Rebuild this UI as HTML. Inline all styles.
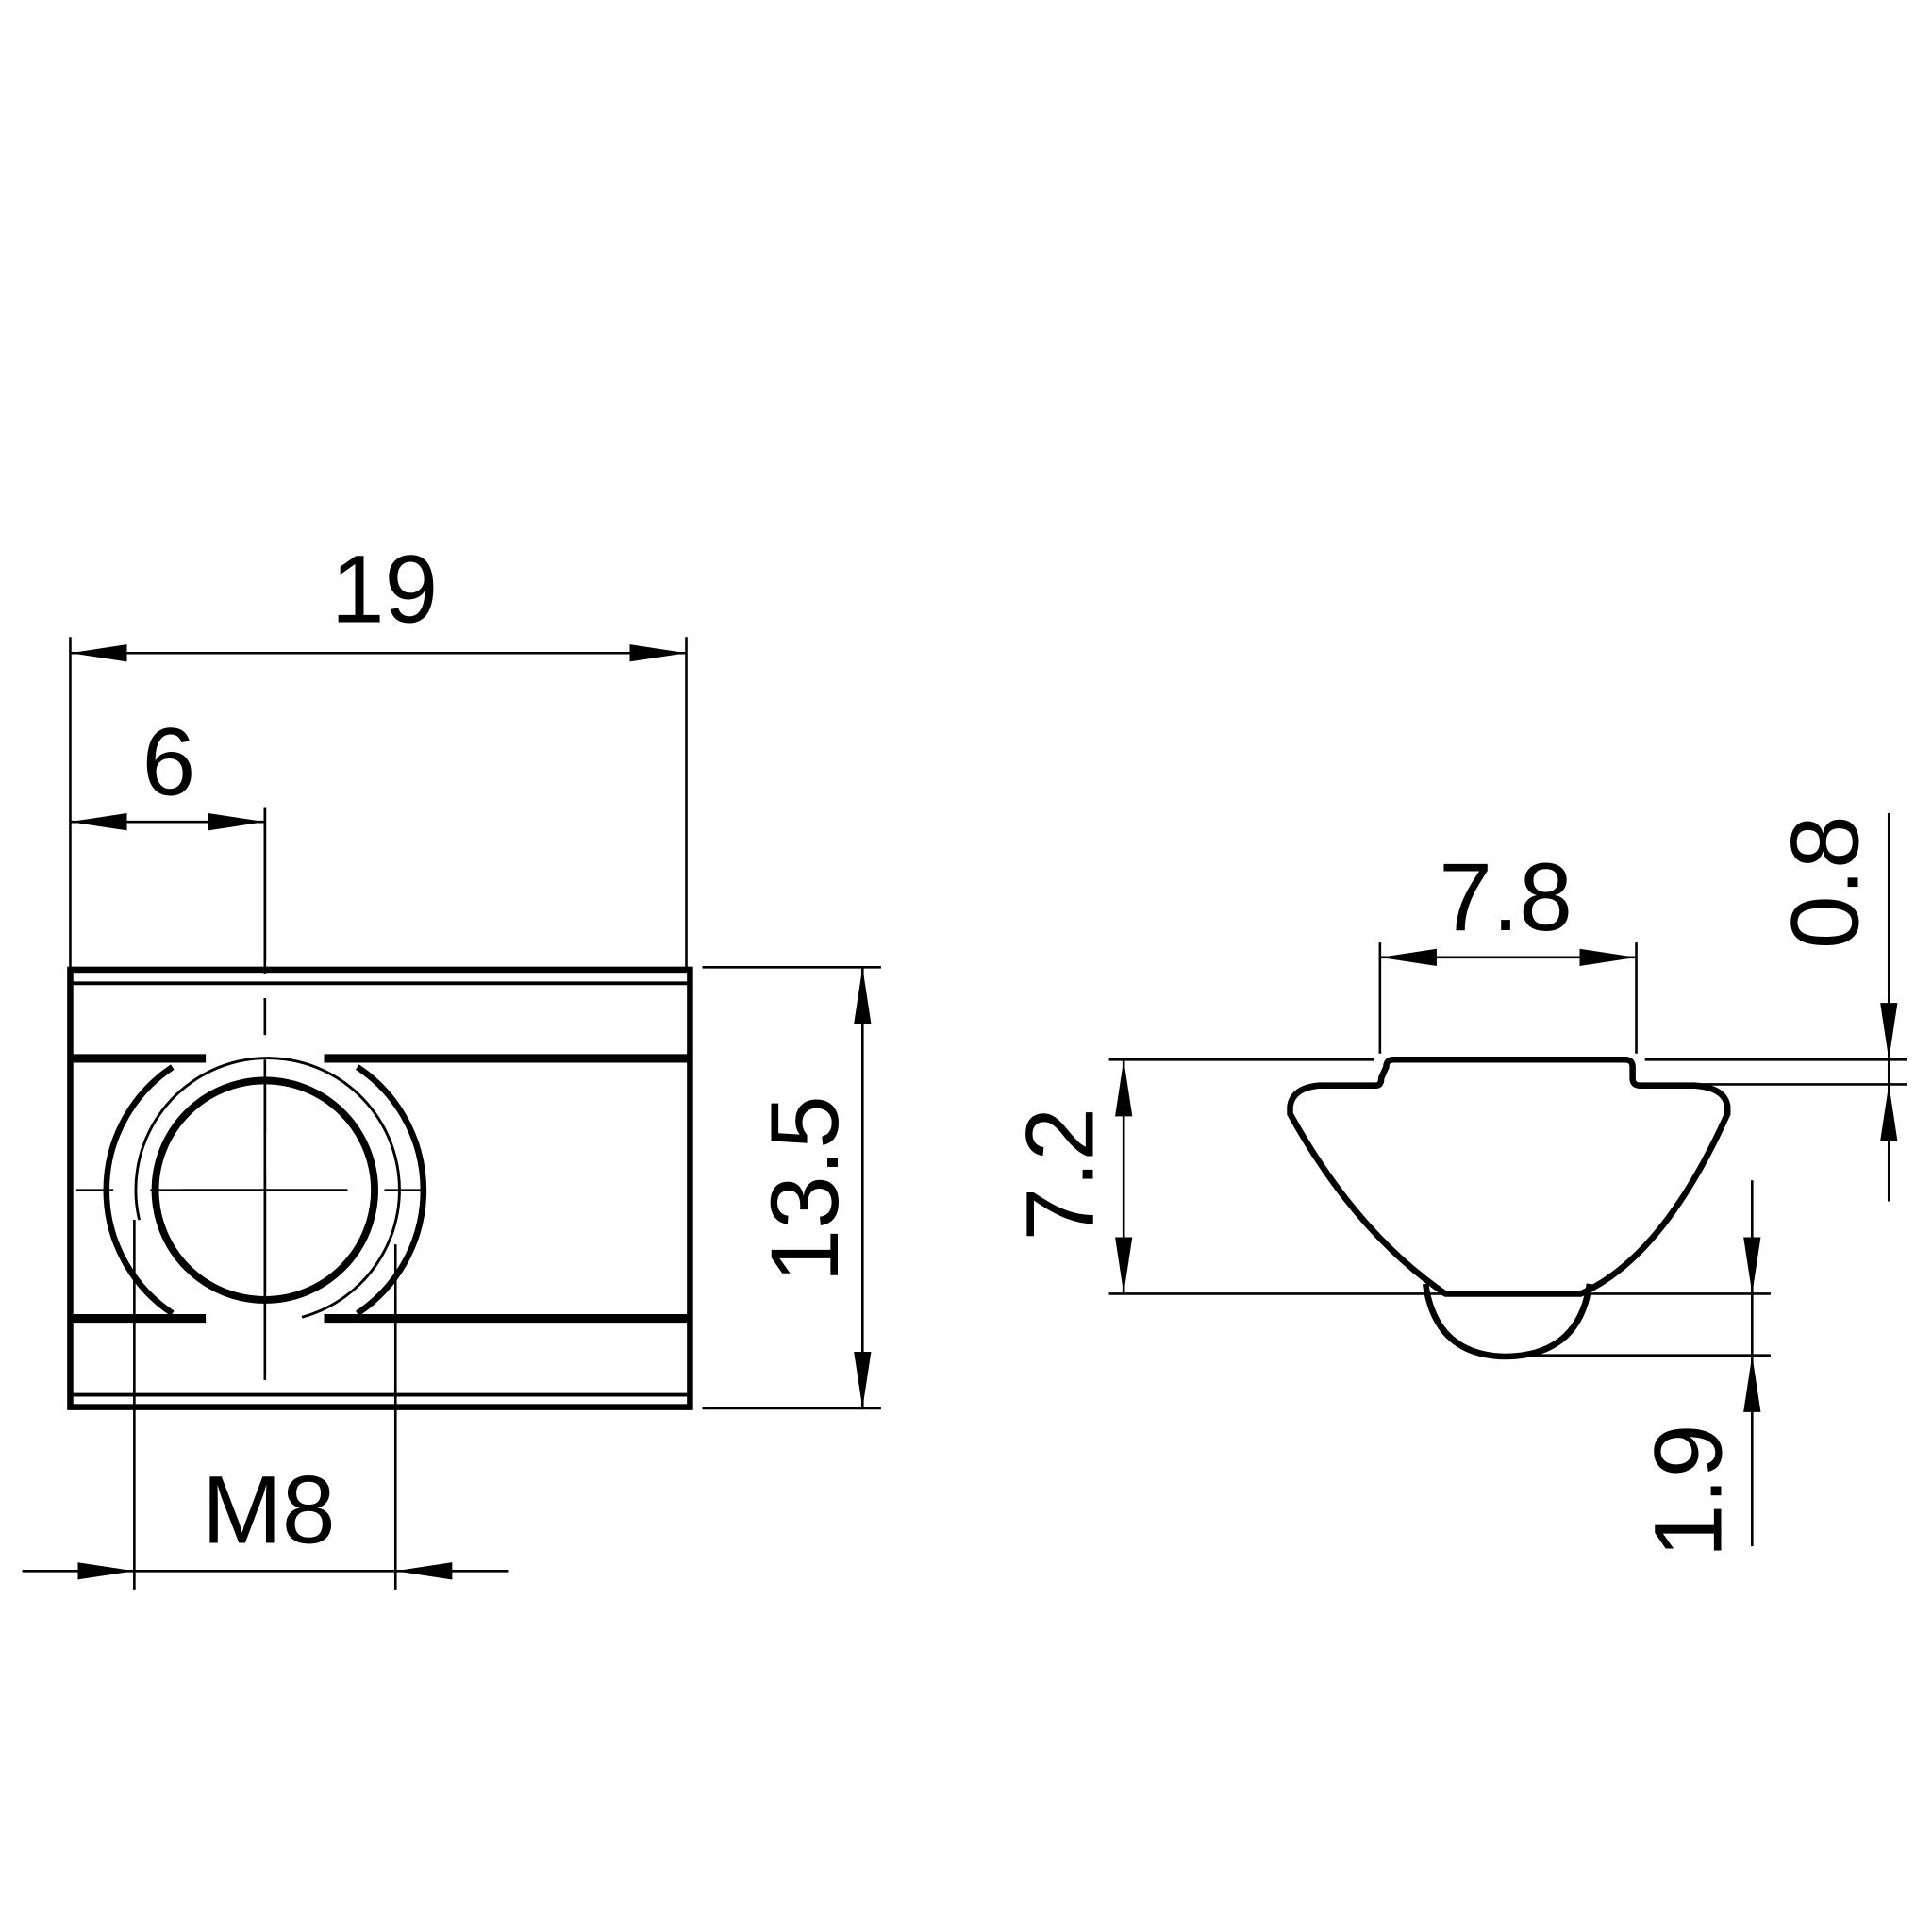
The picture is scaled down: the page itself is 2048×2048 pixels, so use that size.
<!DOCTYPE html>
<html><head><meta charset="utf-8"><style>
html,body{margin:0;padding:0;background:#fff}
svg{display:block}
text{font-family:"Liberation Sans","DejaVu Sans",sans-serif;fill:#000}
</style></head><body>
<svg width="2048" height="2048" viewBox="0 0 1568 1568" xmlns="http://www.w3.org/2000/svg">
<defs>
<marker id="a" viewBox="0 0 46 14" refX="46" refY="7" markerWidth="46" markerHeight="14" markerUnits="userSpaceOnUse" orient="auto-start-reverse">
<path d="M0,0 L46,7 L0,14 Z" fill="#000"/></marker>
</defs>
<g stroke="#000" fill="none" stroke-width="2">
<line x1="57" y1="517" x2="57" y2="785"/>
<line x1="557" y1="517" x2="557" y2="785"/>
<line x1="57" y1="530" x2="557" y2="530" marker-start="url(#a)" marker-end="url(#a)"/>
<line x1="215" y1="655" x2="215" y2="780"/>
<line x1="57" y1="667" x2="215" y2="667" marker-start="url(#a)" marker-end="url(#a)"/>
<line x1="570" y1="785" x2="715" y2="785"/>
<line x1="570" y1="1143" x2="715" y2="1143"/>
<line x1="700" y1="785" x2="700" y2="1143" marker-start="url(#a)" marker-end="url(#a)"/>
<line x1="109" y1="990" x2="109" y2="1290"/>
<line x1="321" y1="1010" x2="321" y2="1290"/>
<line x1="18" y1="1275" x2="109" y2="1275" marker-end="url(#a)"/>
<line x1="413" y1="1275" x2="321" y2="1275" marker-end="url(#a)"/>
<line x1="109" y1="1275" x2="321" y2="1275"/>
<line x1="62" y1="966" x2="372" y2="966" stroke-dasharray="30,30,160,30,30,30"/>
<line x1="215" y1="655" x2="215" y2="1120" stroke-dasharray="135,20,30,20,60,30,180,30,30"/>
<line x1="215" y1="880" x2="215" y2="1050"/>
<line x1="148" y1="966" x2="282" y2="966"/>
</g>
<g stroke="#000" fill="none">
<rect x="57" y="787" width="503" height="355" stroke-width="5"/>
<line x1="57" y1="798" x2="560" y2="798" stroke-width="3"/>
<line x1="57" y1="1132" x2="560" y2="1132" stroke-width="3"/>
<line x1="57" y1="859" x2="167" y2="859" stroke-width="7"/>
<line x1="263" y1="859" x2="560" y2="859" stroke-width="7"/>
<line x1="57" y1="1070" x2="167" y2="1070" stroke-width="7"/>
<line x1="263" y1="1070" x2="560" y2="1070" stroke-width="7"/>
<path d="M140,866 A120,120 0 0 0 140,1066" stroke-width="5"/>
<path d="M290,866 A120,120 0 0 1 290,1066" stroke-width="5"/>
<circle cx="215" cy="966" r="89" stroke-width="6"/>
<path d="M113,990 A107,107 0 1 1 245,1069" stroke-width="2.2"/>
</g>
<g stroke="#000" fill="none" stroke-width="2">
<line x1="1120" y1="765" x2="1120" y2="855"/>
<line x1="1328" y1="765" x2="1328" y2="855"/>
<line x1="1120" y1="777" x2="1328" y2="777" marker-start="url(#a)" marker-end="url(#a)"/>
<line x1="900" y1="860" x2="1115" y2="860"/>
<line x1="1335" y1="860" x2="1548" y2="860"/>
<line x1="1350" y1="880" x2="1548" y2="880"/>
<line x1="900" y1="1050" x2="1437" y2="1050"/>
<line x1="1225" y1="1100" x2="1437" y2="1100"/>
<line x1="912" y1="860" x2="912" y2="1050" marker-start="url(#a)" marker-end="url(#a)"/>
<line x1="1533" y1="660" x2="1533" y2="860" marker-end="url(#a)"/>
<line x1="1533" y1="975" x2="1533" y2="880" marker-end="url(#a)"/>
<line x1="1533" y1="860" x2="1533" y2="880"/>
<line x1="1422" y1="958" x2="1422" y2="1050" marker-end="url(#a)"/>
<line x1="1422" y1="1255" x2="1422" y2="1100" marker-end="url(#a)"/>
<line x1="1422" y1="1050" x2="1422" y2="1100"/>
</g>
<path d="M1125,866 Q1125,860 1131,860 L1319,860 Q1325,860 1325,866 L1325,875 Q1325,881 1331,881 L1376,881 Q1400,883 1402,898 L1402,904 Q1350,1020 1283,1050 L1173,1050 Q1100,1000 1047,904 L1047,898 Q1049,883 1070,881 L1117,881 Q1121,881 1121,875 Z" fill="none" stroke="#000" stroke-width="5" stroke-linejoin="round"/>
<path d="M1157,1042 Q1165,1100 1222,1101 Q1282,1100 1290,1042" fill="none" stroke="#000" stroke-width="5"/>
<g font-size="78">
<text x="312" y="505" text-anchor="middle">19</text>
<text x="137" y="645" text-anchor="middle">6</text>
<text x="218" y="1252" text-anchor="middle">M8</text>
<text x="1222" y="755" text-anchor="middle">7.8</text>
<text transform="translate(680,965) rotate(-90)" text-anchor="middle">13.5</text>
<text transform="translate(887,953) rotate(-90)" text-anchor="middle">7.2</text>
<text transform="translate(1508,716) rotate(-90)" text-anchor="middle">0.8</text>
<text transform="translate(1397,1210) rotate(-90)" text-anchor="middle">1.9</text>
</g>
</svg>
</body></html>
